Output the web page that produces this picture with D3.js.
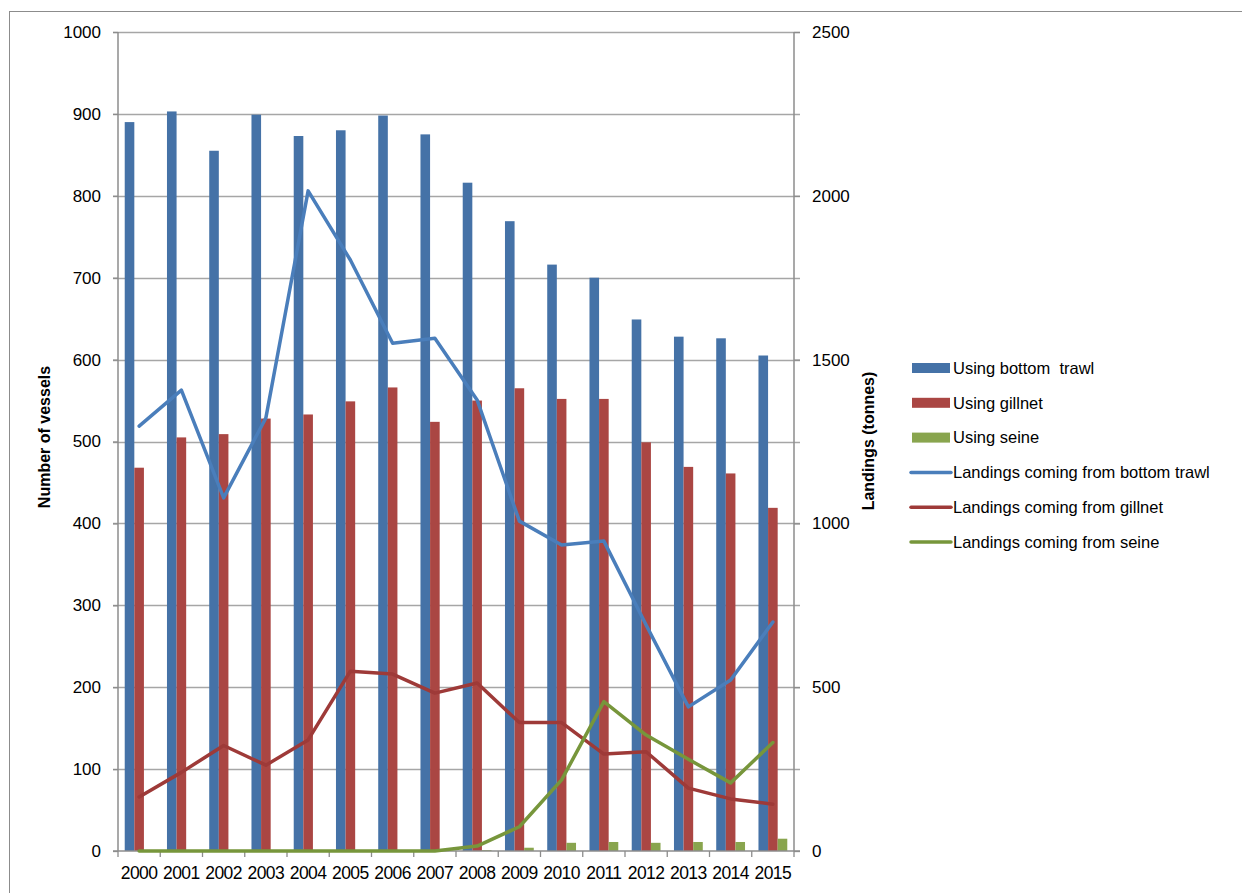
<!DOCTYPE html>
<html>
<head>
<meta charset="UTF-8">
<title>Vessels and landings</title>
<script src="https://cdnjs.cloudflare.com/ajax/libs/d3/7.8.5/d3.min.js"></script>
<style>
  body { margin: 0; background: #fff; }
  svg { display: block; font-family: "Liberation Sans", Arial, sans-serif; }
</style>
</head>
<body>
<div id="chart"></div>
<script>
const years = ["2000","2001","2002","2003","2004","2005","2006","2007","2008","2009","2010","2011","2012","2013","2014","2015"];

// vessels (left axis)
const trawlVessels = [890, 903, 855, 899, 873, 880, 898, 875, 816, 769, 716, 700, 649, 628, 626, 605];
const gillnetVessels = [468, 505, 509, 528, 533, 549, 566, 524, 550, 565, 552, 552, 499, 469, 461, 419];
const seineVessels = [0, 0, 0, 0, 0, 0, 0, 0, 1, 4, 10, 11, 10, 11, 11, 15];

// landings in tonnes (right axis)
const trawlLandings = [1297, 1407, 1078, 1322, 2015, 1804, 1550, 1565, 1377, 1007, 934, 946, 690, 440, 522, 699];
const gillnetLandings = [165, 240, 322, 262, 339, 549, 540, 482, 513, 392, 392, 296, 303, 192, 159, 143];
const seineLandings = [0, 0, 0, 0, 0, 0, 0, 0, 15, 74, 217, 456, 354, 280, 208, 331];

const leftTicks = [0, 100, 200, 300, 400, 500, 600, 700, 800, 900, 1000];
const rightTicks = [0, 500, 1000, 1500, 2000, 2500];

const W = 1242, H = 893;
const plot = { left: 118, right: 794, top: 32, bottom: 851 };

const svg = d3.select("#chart").append("svg")
    .attr("width", W).attr("height", H);

// outer frame
svg.append("rect")
    .attr("x", 9.5).attr("y", 11.5)
    .attr("width", W + 20).attr("height", H + 20)
    .attr("fill", "none").attr("stroke", "#8c8c8c").attr("stroke-width", 1);

const x = d3.scaleBand().domain(years).range([plot.left, plot.right]);
const yL = d3.scaleLinear().domain([0, 1000]).range([plot.bottom, plot.top]);
const yR = d3.scaleLinear().domain([0, 2500]).range([plot.bottom, plot.top]);

// gridlines
svg.append("g").selectAll("line").data(leftTicks.slice(1)).join("line")
    .attr("x1", plot.left - 5).attr("x2", plot.right + 6)
    .attr("y1", d => Math.round(yL(d)) + 0.5).attr("y2", d => Math.round(yL(d)) + 0.5)
    .attr("stroke", "#a6a6a6").attr("stroke-width", 1.3);

// bars
const sub = d3.scaleBand().domain(["t", "g", "s"])
    .range([0, x.bandwidth()]).paddingOuter(0.7).paddingInner(0);
const barSeries = [
  { key: "t", vals: trawlVessels, color: "#4572a7" },
  { key: "g", vals: gillnetVessels, color: "#aa4643" },
  { key: "s", vals: seineVessels, color: "#89a54e" }
];
barSeries.forEach(s => {
  svg.append("g").selectAll("rect").data(years).join("rect")
      .attr("x", d => x(d) + sub(s.key))
      .attr("width", sub.bandwidth())
      .attr("y", (d, i) => yL(s.vals[i]))
      .attr("height", (d, i) => plot.bottom - yL(s.vals[i]))
      .attr("fill", s.color);
});

// axes
const axisColor = "#8c8c8c";
const leftAxis = svg.append("g").attr("transform", `translate(${plot.left},0)`)
    .call(d3.axisLeft(yL).tickValues(leftTicks).tickFormat(d3.format("d")).tickSize(5).tickPadding(12));
const rightAxis = svg.append("g").attr("transform", `translate(${plot.right},0)`)
    .call(d3.axisRight(yR).tickValues(rightTicks).tickFormat(d3.format("d")).tickSize(6).tickPadding(12));
const bottomAxis = svg.append("g").attr("transform", `translate(0,${plot.bottom})`)
    .call(d3.axisBottom(x).tickSize(0).tickPadding(16));

[leftAxis, rightAxis, bottomAxis].forEach(a => {
  a.select(".domain").attr("stroke", axisColor).attr("stroke-width", 1.5);
  a.selectAll(".tick line").attr("stroke", axisColor).attr("stroke-width", 1.3);
  a.selectAll("text").attr("font-size", 17).attr("fill", "#000")
      .attr("font-family", "\"Liberation Sans\", Arial, sans-serif");
});
leftAxis.select(".domain").attr("d", `M0,${plot.top}V${plot.bottom}`);
rightAxis.select(".domain").attr("d", `M0,${plot.top}V${plot.bottom}`);
bottomAxis.select(".domain").attr("d", `M${plot.left - 5},0H${plot.right + 6}`);
bottomAxis.selectAll("text").attr("font-size", 17.5).attr("letter-spacing", -0.6);

// category tick marks
svg.append("g").selectAll("line").data(years.concat(["end"])).join("line")
    .attr("x1", (d, i) => plot.left + i * x.step())
    .attr("x2", (d, i) => plot.left + i * x.step())
    .attr("y1", plot.bottom).attr("y2", plot.bottom + 6)
    .attr("stroke", axisColor).attr("stroke-width", 1.3);

// lines
const lineSeries = [
  { vals: trawlLandings, color: "#4a7ebb" },
  { vals: gillnetLandings, color: "#9e3a38" },
  { vals: seineLandings, color: "#77963b" }
];
const line = d3.line()
    .x(d => x(d[0]) + x.bandwidth() / 2)
    .y(d => yR(d[1]));
lineSeries.forEach(s => {
  svg.append("path")
      .datum(years.map((y, i) => [y, s.vals[i]]))
      .attr("d", line)
      .attr("fill", "none")
      .attr("stroke", s.color)
      .attr("stroke-width", 3.5)
      .attr("stroke-linejoin", "round")
      .attr("stroke-linecap", "round");
});

// axis titles
svg.append("text")
    .attr("transform", "translate(50,437) rotate(-90)")
    .attr("text-anchor", "middle")
    .attr("font-size", 16).attr("font-weight", "bold")
    .text("Number of vessels");
svg.append("text")
    .attr("transform", "translate(874,441) rotate(-90)")
    .attr("text-anchor", "middle")
    .attr("font-size", 16).attr("font-weight", "bold")
    .text("Landings (tonnes)");

// legend
const legendItems = [
  { label: "Using bottom  trawl", color: "#4572a7", type: "bar" },
  { label: "Using gillnet", color: "#aa4643", type: "bar" },
  { label: "Using seine", color: "#89a54e", type: "bar" },
  { label: "Landings coming from bottom trawl", color: "#4a7ebb", type: "line" },
  { label: "Landings coming from gillnet", color: "#9e3a38", type: "line" },
  { label: "Landings coming from seine", color: "#77963b", type: "line" }
];
const lg = svg.append("g").selectAll("g").data(legendItems).join("g")
    .attr("transform", (d, i) => `translate(911,${368 + i * 34.8})`);
lg.filter(d => d.type === "bar").append("rect")
    .attr("x", 1).attr("y", -5).attr("width", 38).attr("height", 10)
    .attr("fill", d => d.color);
lg.filter(d => d.type === "line").append("line")
    .attr("x1", 0).attr("x2", 40).attr("y1", 0).attr("y2", 0)
    .attr("stroke", d => d.color).attr("stroke-width", 3.5)
    .attr("stroke-linecap", "round");
lg.append("text")
    .attr("x", 42).attr("y", 0).attr("dy", "0.35em")
    .attr("font-size", 16.5)
    .style("white-space", "pre")
    .text(d => d.label);
</script>
</body>
</html>
